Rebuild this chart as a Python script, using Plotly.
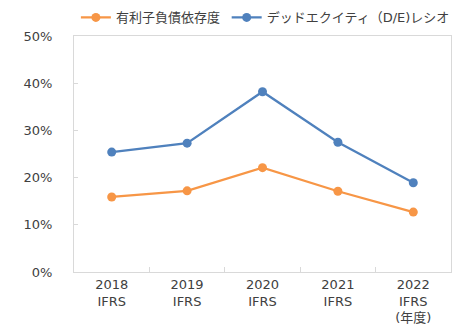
import plotly.graph_objects as go

categories = ["2018<br>IFRS", "2019<br>IFRS", "2020<br>IFRS", "2021<br>IFRS", "2022<br>IFRS<br>(年度)"]
debt_dependency = [0.159, 0.172, 0.221, 0.171, 0.127]
de_ratio = [0.254, 0.273, 0.382, 0.275, 0.189]
series_names = ["有利子負債依存度", "デッドエクイティ（D/E)レシオ"]
y_ticks = [0, 0.1, 0.2, 0.3, 0.4, 0.5]

font_family = "DejaVu Sans, Noto Sans CJK JP, sans-serif"
text_color = "#404040"
axis_color = "#d9d9d9"

fig = go.Figure()
fig.add_trace(go.Scatter(
    x=categories, y=debt_dependency, name=series_names[0], mode="lines+markers",
    line=dict(color="#F79646", width=2.25), marker=dict(size=9, color="#F79646"),
    legend="legend"))
fig.add_trace(go.Scatter(
    x=categories, y=de_ratio, name=series_names[1], mode="lines+markers",
    line=dict(color="#4F81BD", width=2.25), marker=dict(size=9, color="#4F81BD"),
    legend="legend2"))

legend_common = dict(orientation="h", y=1.015, xanchor="left", yanchor="bottom",
                     font=dict(size=13, color=text_color), itemwidth=30,
                     bgcolor="rgba(0,0,0,0)")

fig.update_layout(
    width=455, height=330,
    margin=dict(l=74, r=4, t=36, b=58, autoexpand=False),
    paper_bgcolor="white", plot_bgcolor="white",
    font=dict(family=font_family, size=13, color=text_color),
    showlegend=True,
    legend=dict(x=0.005, **legend_common),
    legend2=dict(x=0.405, **legend_common),
)
fig.update_xaxes(
    type="category", showline=True, linecolor=axis_color, linewidth=1, mirror=True,
    ticks="inside", tickson="boundaries", ticklen=5, tickcolor=axis_color,
    showgrid=False, tickfont=dict(size=13, color=text_color), range=[-0.5, 4.5],
    automargin=False,
)
fig.update_yaxes(
    range=[0, 0.5], tickvals=y_ticks, tickformat=".0%",
    showline=True, linecolor=axis_color, linewidth=1, mirror=True,
    ticks="inside", ticklen=4, tickcolor=axis_color, showgrid=False, zeroline=False,
    tickfont=dict(size=13, color=text_color), ticklabelstandoff=18, automargin=False,
)

fig.write_html("out.html")
